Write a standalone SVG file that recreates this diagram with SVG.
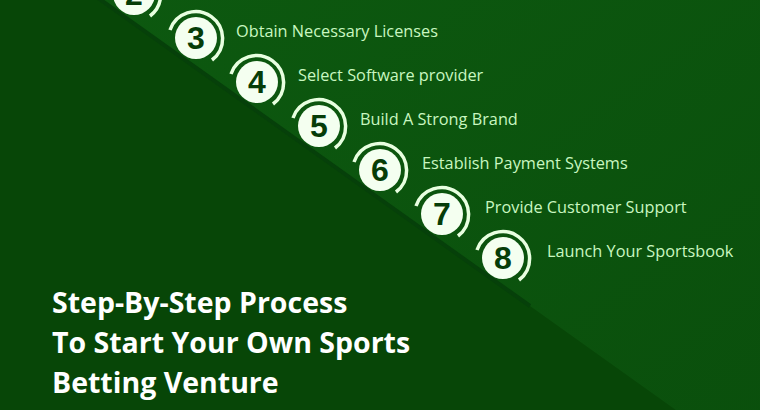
<svg xmlns="http://www.w3.org/2000/svg" width="760" height="410" viewBox="0 0 760 410">
<defs>
<linearGradient id="bg" x1="0" y1="0" x2="1" y2="1"><stop offset="0" stop-color="#0d5a10"/><stop offset="1" stop-color="#0a4f0c"/></linearGradient>
<clipPath id="half"><polygon points="0,-72 760,470 760,-100 0,-100"/></clipPath>
<style>
.lbl{font-family:"Open Sans","Liberation Sans",sans-serif;font-size:16.3px;fill:#c9f7c0}
.num{font-family:"Liberation Sans",sans-serif;font-weight:bold;font-size:32px;fill:#063d08;text-anchor:middle}
.disk{fill:#f4fff0}
.ring{fill:none;stroke:#e8ffe0;stroke-width:3.5}
.ttl{font-family:"Open Sans","Liberation Sans",sans-serif;font-weight:bold;font-size:28.5px;fill:#ffffff}
</style>
</defs>
<rect width="760" height="410" fill="#074607"/>
<polygon points="0,-72 760,470 760,0 0,0" fill="url(#bg)"/>
<g id="connectors">
<line x1="0" y1="-72" x2="530" y2="306" stroke="#06400a" stroke-width="4"/>
</g>
<g clip-path="url(#half)">
<g id="n2"><circle class="disk" cx="134" cy="-6" r="21"/><path class="ring" d="M108,-14 A27,27 0 1 1 150,16"/><text class="num" x="134" y="5">2</text></g>
<g id="n3"><circle class="disk" cx="196" cy="38" r="21"/><path class="ring" d="M170,30 A27,27 0 1 1 212,60"/><text class="num" x="196" y="49">3</text></g>
<g id="n4"><circle class="disk" cx="257" cy="82" r="21"/><path class="ring" d="M231,74 A27,27 0 1 1 273,104"/><text class="num" x="257" y="93">4</text></g>
<g id="n5"><circle class="disk" cx="319" cy="126" r="21"/><path class="ring" d="M293,118 A27,27 0 1 1 335,148"/><text class="num" x="319" y="137">5</text></g>
<g id="n6"><circle class="disk" cx="380" cy="170" r="21"/><path class="ring" d="M354,162 A27,27 0 1 1 396,192"/><text class="num" x="380" y="181">6</text></g>
<g id="n7"><circle class="disk" cx="442" cy="214" r="21"/><path class="ring" d="M416,206 A27,27 0 1 1 458,236"/><text class="num" x="442" y="225">7</text></g>
<g id="n8"><circle class="disk" cx="503" cy="258" r="21"/><path class="ring" d="M477,250 A27,27 0 1 1 519,280"/><text class="num" x="503" y="269">8</text></g>
</g>
<g id="labels">
<text class="lbl" x="236" y="37">Obtain Necessary Licenses</text>
<text class="lbl" x="298" y="81">Select Software provider</text>
<text class="lbl" x="360" y="125">Build A Strong Brand</text>
<text class="lbl" x="422" y="169">Establish Payment Systems</text>
<text class="lbl" x="485" y="213">Provide Customer Support</text>
<text class="lbl" x="547" y="257">Launch Your Sportsbook</text>
</g>
<g id="title">
<text class="ttl" x="52" y="313">Step-By-Step Process</text>
<text class="ttl" x="52" y="353">To Start Your Own Sports</text>
<text class="ttl" x="52" y="393">Betting Venture</text>
</g>
</svg>
